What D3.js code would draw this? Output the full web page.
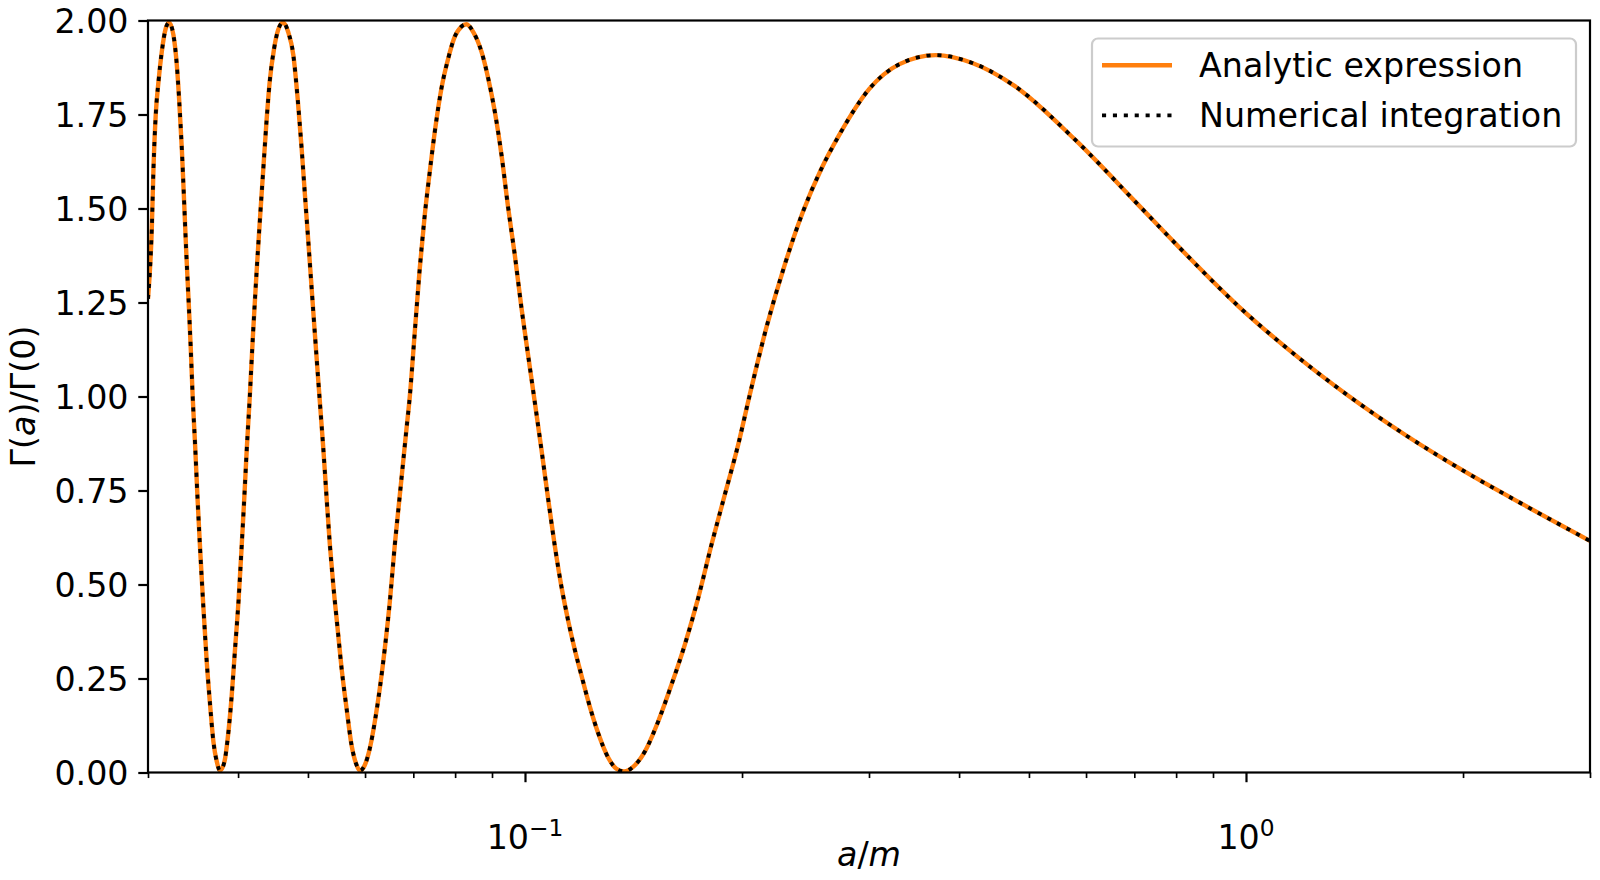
<!DOCTYPE html>
<html>
<head>
<meta charset="utf-8">
<script src="https://cdn.jsdelivr.net/npm/d3@7"></script>
<style>
  html, body { margin: 0; padding: 0; background: #ffffff; }
  svg { display: block; font-family: "DejaVu Sans", sans-serif; }
</style>
</head>
<body>
<svg id="chart" width="1600" height="880"></svg>
<script>
// ---- data ----
const aValues = [
  0.03000, 0.03037, 0.03053, 0.03075, 0.03102, 0.03135, 0.03175, 0.03209, 0.03254, 0.03289,
  0.03313, 0.03342, 0.03367, 0.03388, 0.03414, 0.03439, 0.03460, 0.03487, 0.03516, 0.03547,
  0.03581, 0.03619, 0.03658, 0.03697, 0.03737, 0.03776, 0.03830, 0.03870, 0.03920, 0.03962,
  0.04005, 0.04047, 0.04082, 0.04112, 0.04151, 0.04197, 0.04241, 0.04287, 0.04333, 0.04380,
  0.04425, 0.04488, 0.04546, 0.04619, 0.04693, 0.04772, 0.04838, 0.04900, 0.04952, 0.05006,
  0.05059, 0.05113, 0.05169, 0.05252, 0.05307, 0.05363, 0.05421, 0.05496, 0.05567, 0.05656,
  0.05747, 0.05840, 0.05901, 0.05996, 0.06092, 0.06190, 0.06290, 0.06391, 0.06494, 0.06598,
  0.06705, 0.06850, 0.06922, 0.07033, 0.07146, 0.07261, 0.07378, 0.07497, 0.07659, 0.07825,
  0.07991, 0.08164, 0.08295, 0.08474, 0.08703, 0.08892, 0.09082, 0.09278, 0.09478, 0.09680,
  0.09889, 0.10103, 0.10318, 0.10541, 0.10768, 0.10998, 0.11235, 0.11478, 0.11722, 0.11976,
  0.12297, 0.12631, 0.13041, 0.13391, 0.13724, 0.14124, 0.14656, 0.15296, 0.15961, 0.16653,
  0.17381, 0.18136, 0.18924, 0.19751, 0.20496, 0.2163, 0.2292, 0.2428, 0.2573, 0.2727,
  0.3003, 0.3307, 0.3714, 0.4172, 0.4775, 0.5794, 0.7031, 0.8047, 0.9763, 1.185,
  1.382, 1.678, 1.996, 2.422, 3.000
];
const analyticRatio = [
  1.26, 1.45, 1.607, 1.749, 1.837, 1.917, 1.979, 1.995, 1.961, 1.882,
  1.793, 1.660, 1.518, 1.394, 1.261, 1.128, 1.000, 0.871, 0.720, 0.578,
  0.437, 0.295, 0.180, 0.082, 0.029, 0.005, 0.029, 0.091, 0.206, 0.330,
  0.454, 0.605, 0.738, 0.858, 0.995, 1.172, 1.323, 1.465, 1.598, 1.731,
  1.837, 1.926, 1.975, 1.995, 1.970, 1.908, 1.793, 1.660, 1.536, 1.412,
  1.288, 1.164, 1.039, 0.860, 0.730, 0.605, 0.499, 0.384, 0.277, 0.171,
  0.073, 0.020, 0.005, 0.020, 0.064, 0.135, 0.224, 0.330, 0.454, 0.605,
  0.738, 0.915, 1.000, 1.172, 1.341, 1.483, 1.598, 1.704, 1.820, 1.899,
  1.957, 1.984, 1.990, 1.970, 1.917, 1.846, 1.757, 1.642, 1.501, 1.376,
  1.235, 1.108, 0.985, 0.858, 0.727, 0.603, 0.494, 0.404, 0.327, 0.258,
  0.176, 0.105, 0.040, 0.010, 0.003, 0.015, 0.055, 0.135, 0.233, 0.339,
  0.463, 0.605, 0.738, 0.871, 1.004, 1.185, 1.350, 1.490, 1.603, 1.695,
  1.818, 1.884, 1.908, 1.887, 1.826, 1.683, 1.517, 1.400, 1.240, 1.102,
  1.004, 0.893, 0.804, 0.713, 0.616
];
// the numerical integration lies on top of the analytic curve
const numericalRatio = analyticRatio;

const seriesNames = ["Analytic expression", "Numerical integration"];
const xDomain = [0.03, 3];
const yDomain = [0, 2];
const xMajorTicks = [0.1, 1];
const xMajorBase = ["10", "10"];
const xMajorExp = ["\u22121", "0"];
const xMinorTicks = [0.03, 0.04, 0.05, 0.06, 0.07, 0.08, 0.09, 0.2, 0.3, 0.4, 0.5, 0.6, 0.7, 0.8, 0.9, 2, 3];
const yTicks = [0, 0.25, 0.5, 0.75, 1.0, 1.25, 1.5, 1.75, 2.0];
const yTickLabels = ["0.00", "0.25", "0.50", "0.75", "1.00", "1.25", "1.50", "1.75", "2.00"];

// ---- layout ----
const L = 148, R = 1590, T = 20.5, B = 772.5;
const FS = 33.3;
const svg = d3.select("#chart");

const x = d3.scaleLog().domain(xDomain).range([L, R]);
const y = d3.scaleLinear().domain(yDomain).range([B, T]);

svg.append("defs").append("clipPath").attr("id", "plotclip")
  .append("rect").attr("x", L).attr("y", T).attr("width", R - L).attr("height", B - T);

const rows = aValues.map((a, i) => ({a, an: analyticRatio[i], nu: numericalRatio[i]}));

const plot = svg.append("g").attr("clip-path", "url(#plotclip)");
const lineAn = d3.line().x(d => x(d.a)).y(d => y(d.an)).curve(d3.curveMonotoneX);
const lineNu = d3.line().x(d => x(d.a)).y(d => y(d.nu)).curve(d3.curveMonotoneX);

const ORANGE_W = 4.4, DOT_W = 3.8, DOT_DASH = "4.1 6.8";

plot.append("path").datum(rows).attr("d", lineAn)
  .attr("fill", "none").attr("stroke", "#ff7f0e").attr("stroke-width", ORANGE_W)
  .attr("stroke-linejoin", "round");
plot.append("path").datum(rows).attr("d", lineNu)
  .attr("fill", "none").attr("stroke", "#000000").attr("stroke-width", DOT_W)
  .attr("stroke-dasharray", DOT_DASH);

// ---- axes ----
const xMajor = svg.append("g").attr("transform", `translate(0,${B})`)
  .call(d3.axisBottom(x).tickValues(xMajorTicks).tickSize(9.72).tickFormat(""));
const xMinor = svg.append("g").attr("transform", `translate(0,${B})`)
  .call(d3.axisBottom(x).tickValues(xMinorTicks).tickSize(5.56).tickFormat(""));
const yAxis = svg.append("g").attr("transform", `translate(${L},0)`)
  .call(d3.axisLeft(y).tickValues(yTicks).tickSize(9.72).tickFormat(""));

[xMajor, xMinor, yAxis].forEach(g => g.select(".domain").remove());
xMajor.selectAll(".tick line").attr("stroke", "#000").attr("stroke-width", 2.2);
yAxis.selectAll(".tick line").attr("stroke", "#000").attr("stroke-width", 2.2);
xMinor.selectAll(".tick line").attr("stroke", "#000").attr("stroke-width", 1.67);

// y tick labels
svg.append("g").selectAll("text").data(yTicks).join("text")
  .attr("x", L - 9.72 - 9.72)
  .attr("y", d => y(d) + 12)
  .attr("text-anchor", "end")
  .attr("font-size", FS)
  .attr("fill", "#000")
  .text((d, i) => yTickLabels[i]);

// x tick labels (10^n)
const xl = svg.append("g").selectAll("text").data(xMajorTicks).join("text")
  .attr("x", d => x(d))
  .attr("y", 849)
  .attr("text-anchor", "middle")
  .attr("font-size", FS)
  .attr("fill", "#000");
xl.append("tspan").text((d, i) => xMajorBase[i]);
xl.append("tspan").attr("font-size", FS * 0.7).attr("dy", -13).text((d, i) => xMajorExp[i]);

// spines (drawn above the curves)
svg.append("rect").attr("x", L).attr("y", T).attr("width", R - L).attr("height", B - T)
  .attr("fill", "none").attr("stroke", "#000").attr("stroke-width", 2.2);

// axis labels
const xlab = svg.append("text").attr("x", (L + R) / 2).attr("y", 866)
  .attr("text-anchor", "middle").attr("font-size", FS).attr("fill", "#000");
xlab.append("tspan").attr("font-style", "italic").text("a");
xlab.append("tspan").text("/");
xlab.append("tspan").attr("font-style", "italic").text("m");

const ylab = svg.append("text")
  .attr("transform", `translate(35,${(T + B) / 2}) rotate(-90)`)
  .attr("text-anchor", "middle").attr("font-size", FS).attr("fill", "#000");
ylab.append("tspan").text("\u0393(");
ylab.append("tspan").attr("font-style", "italic").text("a");
ylab.append("tspan").text(")/\u0393(0)");

// ---- legend ----
const lg = svg.append("g");
lg.append("rect").attr("x", 1092).attr("y", 38.5).attr("width", 484).attr("height", 108)
  .attr("rx", 6).attr("ry", 6)
  .attr("fill", "#ffffff").attr("fill-opacity", 0.8)
  .attr("stroke", "#cccccc").attr("stroke-width", 2.2);
const legendStyles = [
  {stroke: "#ff7f0e", width: ORANGE_W, dash: null},
  {stroke: "#000000", width: DOT_W, dash: DOT_DASH}
];
seriesNames.forEach((name, i) => {
  const cy = 65.3 + i * 50;
  const ln = lg.append("line").attr("x1", 1102).attr("x2", 1172).attr("y1", cy).attr("y2", cy)
    .attr("stroke", legendStyles[i].stroke).attr("stroke-width", legendStyles[i].width);
  if (legendStyles[i].dash) ln.attr("stroke-dasharray", legendStyles[i].dash);
  lg.append("text").attr("x", 1199).attr("y", cy + 11.5)
    .attr("font-size", FS).attr("fill", "#000").text(name);
});
</script>
</body>
</html>
